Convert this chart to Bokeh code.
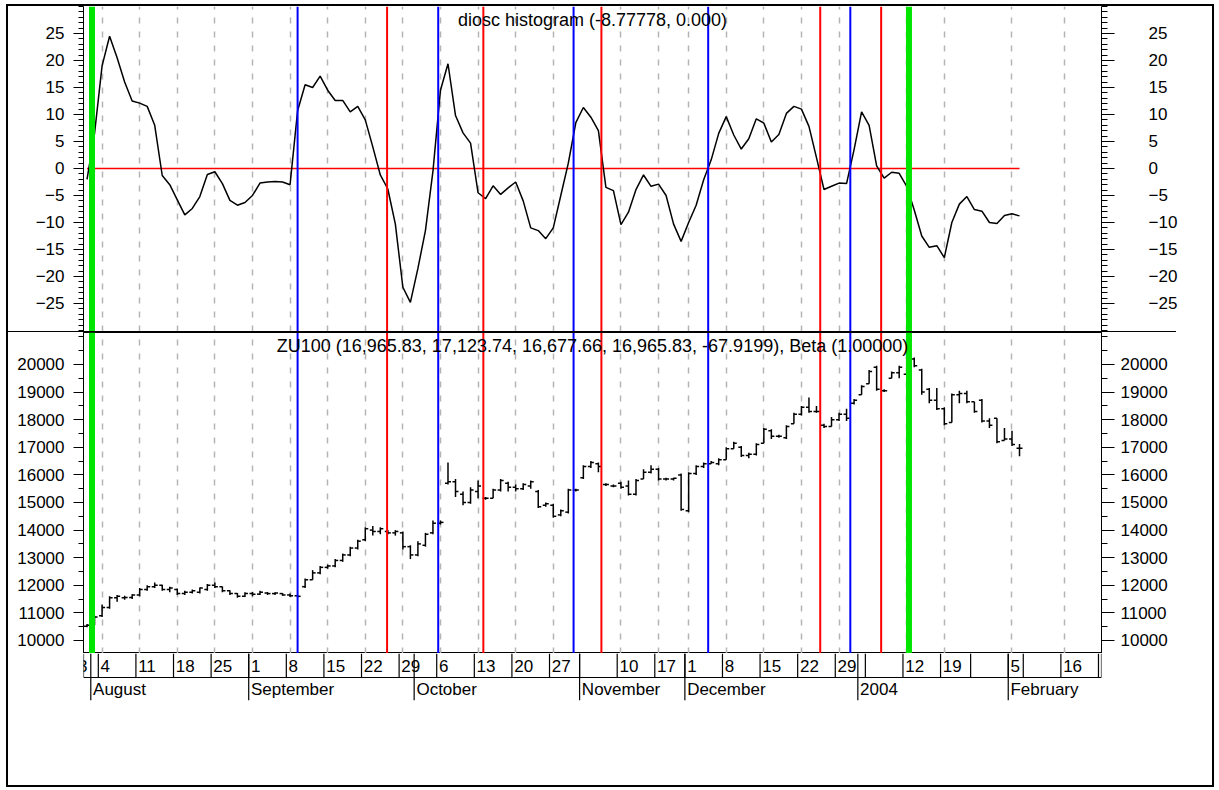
from bokeh.plotting import figure
from bokeh.models import Range1d, LinearAxis, FixedTicker, Grid, Span, Label, Div, ColumnDataSource
from bokeh.layouts import column
from bokeh.embed import file_html
from bokeh.resources import INLINE
from bokeh.core.properties import value

# ---------------- data ----------------
osc = [-2.0, 6.5, 19.0, 24.5, 20.5, 16.0, 12.5, 12.1, 11.5, 8.0,
       -1.3, -3.0, -5.8, -8.6, -7.4, -5.2, -1.1, -0.6, -2.8, -5.9,
       -6.8, -6.3, -5.0, -2.7, -2.5, -2.4, -2.5, -3.0, 10.7, 15.5,
       15.0, 17.1, 14.5, 12.6, 12.6, 10.5, 11.5, 9.0, 4.0, -1.2,
       -3.8, -10.3, -22.0, -24.8, -18.5, -11.5, -0.5, 14.5, 19.4, 9.8,
       6.6, 4.7, -4.5, -5.6, -3.2, -4.8, -3.6, -2.5, -6.0, -11.0,
       -11.5, -13.0, -11.0, -5.0, 1.0, 8.5, 11.3, 9.5, 7.0, -3.5,
       -4.1, -10.4, -8.1, -3.9, -1.2, -3.3, -2.9, -5.0, -10.3, -13.5,
       -10.0, -6.8, -2.1, 1.6, 6.5, 9.6, 6.2, 3.6, 5.5, 9.2,
       8.4, 4.9, 6.3, 10.2, 11.5, 11.0, 7.8, 2.0, -3.9, -3.3,
       -2.7, -2.8, 3.5, 10.5, 8.0, 0.5, -1.8, -0.7, -0.9, -3.3,
       -7.7, -12.5, -14.6, -14.3, -16.5, -10.0, -6.6, -5.2, -7.6, -7.9,
       -10.0, -10.2, -8.7, -8.4, -8.77778]

opens = [10520, 10600, 10900, 11200, 11550, 11550, 11560, 11650, 11850, 11950,
         12000, 11850, 11850, 11700, 11750, 11750, 11850, 12000, 11950, 11800,
         11700, 11600, 11700, 11680, 11720, 11700, 11700, 11650, 11620, 11950,
         12200, 12450, 12650, 12700, 12900, 13100, 13350, 13650, 14000, 13950,
         13950, 13900, 13900, 13400, 13100, 13450, 13900, 14250, 15700, 15750,
         15300, 15000, 15400, 15150, 15150, 15450, 15700, 15550, 15500, 15600,
         15400, 14900, 14900, 14550, 14650, 15450, 15900, 16300, 16400, 15650,
         15600, 15700, 15600, 15300, 15850, 16100, 16200, 15850, 15850, 16000,
         14700, 16050, 16300, 16400, 16400, 16550, 16950, 17000, 16700, 16750,
         17150, 17600, 17400, 17350, 17850, 18200, 18450, 18300, 17800, 17750,
         18000, 18200, 18600, 18900, 19300, 19900, 19050, 19500, 19700, 19650,
         20200, 19800, 19100, 18700, 18400, 17900, 18900, 18950, 18650, 18700,
         17950, 18050, 17250, 17300, 16965.83]

highs = [10600, 10900, 11300, 11600, 11650, 11620, 11680, 11900, 12000, 12100,
         12020, 11950, 11880, 11800, 11850, 11920, 12050, 12100, 11960, 11820,
         11720, 11750, 11760, 11800, 11760, 11750, 11720, 11700, 11660, 12250,
         12550, 12700, 12750, 12950, 13150, 13400, 13650, 14100, 14150, 14100,
         14000, 14000, 13950, 13450, 13600, 13900, 14350, 14350, 16450, 15850,
         15400, 15550, 15800, 15200, 15500, 15850, 15750, 15650, 15700, 15800,
         15450, 15000, 14950, 14750, 15500, 15500, 16350, 16500, 16450, 15700,
         15650, 15750, 15800, 15850, 16200, 16350, 16250, 15900, 15900, 16050,
         16100, 16350, 16450, 16500, 16600, 17000, 17200, 17050, 16800, 17150,
         17700, 17650, 17450, 17800, 18250, 18500, 18800, 18500, 17850, 18100,
         18250, 18400, 18750, 19250, 19800, 19950, 19100, 19750, 19950, 20300,
         20250, 19850, 19150, 19150, 18450, 18950, 19050, 19050, 18650, 18750,
         18050, 18050, 17700, 17600, 17123.74]

lows = [10480, 10550, 10850, 11150, 11400, 11480, 11500, 11600, 11800, 11900,
        11800, 11750, 11650, 11650, 11700, 11700, 11800, 11900, 11750, 11650,
        11550, 11580, 11600, 11650, 11650, 11650, 11620, 11580, 11560, 11900,
        12200, 12400, 12600, 12650, 12850, 13050, 13300, 13600, 13800, 13850,
        13850, 13800, 13300, 12950, 13050, 13400, 13850, 14200, 15650, 15200,
        14900, 14950, 15150, 15100, 15150, 15400, 15400, 15400, 15450, 15500,
        14800, 14850, 14450, 14500, 14600, 15400, 15850, 16250, 16100, 15600,
        15550, 15500, 15250, 15250, 15850, 16050, 15800, 15800, 15800, 14700,
        14650, 16000, 16250, 16400, 16350, 16550, 16950, 16650, 16600, 16700,
        17150, 17300, 17350, 17300, 17850, 18150, 18250, 18250, 17700, 17750,
        17950, 17950, 18550, 18900, 19300, 19050, 19000, 19500, 19500, 19650,
        19900, 18900, 18600, 18350, 17800, 17900, 18600, 18600, 18250, 17900,
        17700, 17150, 17250, 17050, 16677.66]

closes = [10550, 10850, 11200, 11550, 11600, 11560, 11650, 11850, 11950, 12000,
          11850, 11900, 11700, 11750, 11800, 11900, 12000, 11950, 11800, 11700,
          11600, 11700, 11680, 11750, 11700, 11720, 11650, 11620, 11600, 12200,
          12450, 12650, 12700, 12900, 13100, 13350, 13600, 14050, 13950, 14050,
          13900, 13950, 13400, 13100, 13500, 13850, 14250, 14280, 15750, 15400,
          15000, 15450, 15600, 15150, 15450, 15800, 15550, 15500, 15650, 15750,
          14850, 14950, 14500, 14700, 15450, 15450, 16300, 16450, 16300, 15650,
          15600, 15550, 15300, 15800, 16100, 16200, 15850, 15850, 15880, 14750,
          16050, 16300, 16400, 16450, 16550, 16950, 17150, 16700, 16750, 17100,
          17650, 17400, 17400, 17750, 18200, 18450, 18300, 18300, 17750, 18000,
          18200, 18050, 18700, 19200, 19750, 19100, 19050, 19700, 19900, 20200,
          19950, 19000, 18700, 18400, 17850, 18900, 18950, 18650, 18300, 17950,
          17800, 17200, 17300, 17100, 16965.83]

# week ticks (bar index of first bar of the week) and their labels
day_ticks = [-1, 2, 7, 12, 17, 22, 27, 32, 37, 42, 47, 52, 57, 62, 66, 71, 76,
             80, 85, 90, 95, 100, 104, 109, 114, 118, 123, 125, 130, 135]
day_labels = ["3", "4", "11", "18", "25", "1", "8", "15", "22", "29", "6", "13", "20", "27", "", "10", "17",
              "1", "8", "15", "22", "29", "", "12", "19", "", "5", "", "16", ""]
grid_weeks = [2, 7, 12, 17, 22, 27, 32, 37, 42, 47, 52, 57, 62, 71, 76,
              80, 85, 90, 95, 100, 109, 114, 123, 130, 135]
month_starts = [1, 22, 44, 66, 80, 103, 123]
month_labels = ["August", "September", "October", "November", "December", "2004", "February"]

green_signals = [0.66, 109.3]
blue_signals = [28.0, 46.7, 64.7, 82.6, 101.5]
red_signals = [39.9, 52.7, 68.4, 97.5, 105.6]

osc_ticks = [-25, -20, -15, -10, -5, 0, 5, 10, 15, 20, 25]
osc_minor = list(range(-30, 31))
price_ticks = [10000, 11000, 12000, 13000, 14000, 15000, 16000, 17000, 18000, 19000, 20000]
price_minor = list(range(9500, 21500, 500))

osc_title = "diosc histogram (-8.77778, 0.000)"
price_title = "ZU100 (16,965.83, 17,123.74, 16,677.66, 16,965.83, -67.9199), Beta (1.00000)"

# ---------------- layout constants ----------------
FONT = "Liberation Sans"
W = 1204
LEFT, RIGHT = 75, 111
FRAME_W = W - LEFT - RIGHT
PX_PER_BAR = 7.52
X0 = -0.47
X1 = X0 + FRAME_W / PX_PER_BAR
TOP_H = 325
BOT_H = 321
STRIP_H = 132
STRIP_FRAME_H = 47

bars = list(range(len(osc)))
x_range = Range1d(X0, X1)


def make_fig(height, y_range, outline, bottom=0):
    p = figure(width=W, height=height, x_range=x_range, y_range=y_range,
               output_backend="svg", toolbar_location=None,
               x_axis_location=None, y_axis_location=None,
               min_border_left=LEFT, min_border_right=RIGHT,
               min_border_top=0, min_border_bottom=bottom,
               outline_line_color=outline, background_fill_color="white",
               border_fill_color="white")
    p.xgrid.visible = False
    p.ygrid.visible = False
    return p


def add_axes(p, ticks, minor, right_standoff):
    for side in ("left", "right"):
        ax = LinearAxis(ticker=FixedTicker(ticks=ticks, minor_ticks=minor))
        ax.axis_line_color = "black"
        ax.axis_line_width = 1
        ax.major_tick_line_color = "black"
        ax.minor_tick_line_color = "black"
        ax.major_tick_in = 0
        ax.minor_tick_in = 0
        if side == "left":
            ax.major_tick_out = 10
            ax.minor_tick_out = 5
            ax.major_label_standoff = 9
        else:
            ax.major_tick_out = 13
            ax.minor_tick_out = 6
            ax.major_label_standoff = right_standoff
        ax.major_label_text_font = FONT
        ax.major_label_text_font_size = "17px"
        ax.major_label_text_color = "black"
        p.add_layout(ax, side)


def add_grid_and_signals(p):
    g = Grid(dimension=0, ticker=FixedTicker(ticks=grid_weeks),
             grid_line_color="#b4b4b4", grid_line_dash="6 8", grid_line_width=1.5)
    p.add_layout(g)
    for locs, color, w in ((blue_signals, "#0000ff", 2), (red_signals, "#ff0000", 2),
                           (green_signals, "#00e600", 6)):
        for loc in locs:
            p.add_layout(Span(location=loc, dimension="height", line_color=color, line_width=w))


# ---------------- top: oscillator ----------------
OSC_PX = 5.4
top_range = Range1d(-30.19, 30.0)
top = make_fig(TOP_H, top_range, None)
add_axes(top, osc_ticks, osc_minor, 34)
add_grid_and_signals(top)
top.line([bars[0], bars[-1]], [0, 0], line_color="#ff0000", line_width=1.5)
top.line(bars, osc, line_color="black", line_width=1.5)
top.add_layout(Label(x=(X0 + X1) / 2, y=top_range.end - 14 / OSC_PX, text=osc_title,
                     text_align="center", text_baseline="middle", text_font=FONT,
                     text_font_size="18px", text_color="black"))

# ---------------- separator ----------------
sep = Div(text="", width=1168, height=1, margin=0,
          styles={"background-color": "black", "overflow": "hidden"})

# ---------------- bottom: price bars ----------------
PRICE_PX = 27.6 / 1000
bot_range = Range1d(9529, 21159)
bot = make_fig(BOT_H, bot_range, "black")
add_axes(bot, price_ticks, price_minor, 6)
add_grid_and_signals(bot)
TICK = 0.4
src = ColumnDataSource(dict(x=bars, o=opens, h=highs, l=lows, c=closes,
                            xl=[b - TICK for b in bars], xr=[b + TICK for b in bars]))
bot.segment(x0="x", y0="l", x1="x", y1="h", source=src, line_color="black", line_width=1.5)
bot.segment(x0="xl", y0="o", x1="x", y1="o", source=src, line_color="black", line_width=1.5)
bot.segment(x0="x", y0="c", x1="xr", y1="c", source=src, line_color="black", line_width=1.5)
bot.add_layout(Label(x=(X0 + X1) / 2, y=bot_range.end - 13 / PRICE_PX, text=price_title,
                     text_align="center", text_baseline="middle", text_font=FONT,
                     text_font_size="18px", text_color="black"))

# ---------------- date strip ----------------
strip = make_fig(STRIP_H, Range1d(-STRIP_FRAME_H, 0), None, bottom=STRIP_H - STRIP_FRAME_H)

ROW = 24
inside = [i for i, k in enumerate(day_ticks) if k - 0.5 > X0]
box_x = [day_ticks[i] - 0.5 for i in inside] + [X0, X1]
strip.segment(x0=box_x, y0=[0] * len(box_x), x1=box_x, y1=[-ROW] * len(box_x),
              line_color="black", line_width=1.2)
strip.segment(x0=[X0], y0=[-ROW], x1=[X1], y1=[-ROW], line_color="black", line_width=1.2)
month_x = [m - 0.5 for m in month_starts]
strip.segment(x0=month_x, y0=[0] * len(month_x), x1=month_x, y1=[-STRIP_FRAME_H] * len(month_x),
              line_color="black", line_width=1.2)
strip.text(x=[day_ticks[i] - 0.2 for i in inside], y=[-ROW / 2] * len(inside),
           text=[day_labels[i] for i in inside],
           text_font=value(FONT), text_font_size=value("17px"), text_color="black",
           text_align="left", text_baseline="middle")
for i, k in enumerate(day_ticks):
    if i not in inside:
        # label of the partial week left of the frame (drawn outside the clip region)
        strip.add_layout(Label(x=k - 0.2, y=-ROW / 2, text=day_labels[i], text_font=FONT,
                               text_font_size="17px", text_color="black",
                               text_align="left", text_baseline="middle"))
strip.text(x=[m - 0.2 for m in month_starts], y=[-(ROW + STRIP_FRAME_H) / 2] * len(month_starts),
           text=month_labels, text_font=value(FONT), text_font_size=value("17px"),
           text_color="black", text_align="left", text_baseline="middle")

layout = column(top, sep, bot, strip, spacing=0, margin=(4, 0, 0, 6),
                styles={"border": "2px solid black", "background-color": "white"})

open("out.html", "w").write(file_html(layout, INLINE))
